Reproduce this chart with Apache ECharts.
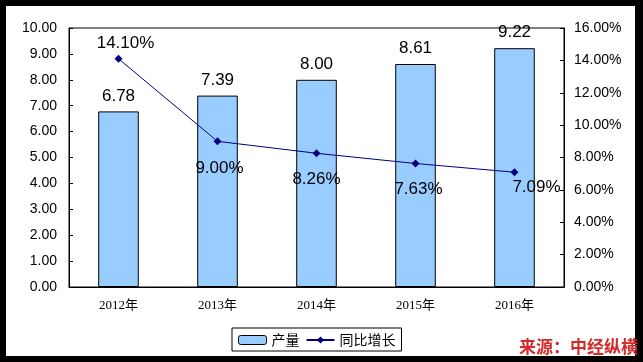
<!DOCTYPE html>
<html><head><meta charset="utf-8">
<script src="https://cdn.jsdelivr.net/npm/echarts@6/dist/echarts.min.js"></script>
<style>html,body{margin:0;padding:0;background:#000;}#c{width:643px;height:362px;}</style>
</head><body><div id="c"></div>
<script>
const categories = ['2012年','2013年','2014年','2015年','2016年'];
const output = [6.78, 7.39, 8.00, 8.61, 9.22];
const growth = [14.10, 9.00, 8.26, 7.63, 7.09];
const leftTicks = {min:0, max:10, interval:1};
const rightTicks = {min:0, max:16, interval:2};

const labelOffsets = [[7,-15],[2,27],[0,26],[3,26],[22,15]];
const numFont = 'Liberation Sans, Arial, sans-serif';
const chart = echarts.init(document.getElementById('c'));
chart.setOption({
  animation:false,
  backgroundColor:'transparent',
  graphic:[
    {type:'rect', z:-10, shape:{x:6,y:6,width:629,height:350}, style:{fill:'#fff'}},
    {type:'text', right:5, top:338, z:100, style:{text:'来源：中经纵横', fill:'#d42a2a', font:'bold 17px "Noto Sans CJK SC", sans-serif'}}
  ],
  grid:{left:69, right:79, top:28, bottom:75, show:true, borderColor:'#000', borderWidth:1, backgroundColor:'transparent'},
  legend:{
    bottom:11, left:232, itemGap:6, padding:[5,6,4,6],
    borderColor:'#000', borderWidth:1,
    textStyle:{fontFamily:'"Noto Sans CJK SC", sans-serif', fontSize:14, color:'#000'},
    data:[{name:'产量', itemStyle:{color:'#99ccff',borderColor:'#000',borderWidth:1}}, {name:'同比增长'}],
    itemWidth:28, itemHeight:9
  },
  xAxis:{
    type:'category', data:categories,
    axisLine:{lineStyle:{color:'#000'}},
    axisTick:{inside:true, length:4, lineStyle:{color:'#000'}},
    axisLabel:{color:'#000', fontSize:13, margin:12, fontFamily:'"Liberation Serif", "Noto Sans CJK SC", serif'}
  },
  yAxis:[
    {type:'value', min:leftTicks.min, max:leftTicks.max, interval:leftTicks.interval,
     splitLine:{show:false},
     axisLine:{show:true, lineStyle:{color:'#000'}},
     axisTick:{show:true, inside:true, length:4, lineStyle:{color:'#000'}},
     axisLabel:{color:'#000', fontSize:14, margin:12, fontFamily:numFont, formatter:v=>v.toFixed(2)}},
    {type:'value', min:rightTicks.min, max:rightTicks.max, interval:rightTicks.interval,
     splitLine:{show:false},
     axisLine:{show:true, lineStyle:{color:'#000'}},
     axisTick:{show:true, inside:true, length:4, lineStyle:{color:'#000'}},
     axisLabel:{color:'#000', fontSize:14, margin:10, fontFamily:numFont, formatter:v=>v.toFixed(2)+'%'}}
  ],
  series:[
    {name:'产量', type:'bar', data:output, barWidth:'41%',
     itemStyle:{color:'#99ccff', borderColor:'#000', borderWidth:1},
     label:{show:true, position:'top', distance:7, color:'#000', fontSize:17, fontFamily:numFont, formatter:p=>p.value.toFixed(2)}},
    {name:'同比增长', type:'line', yAxisIndex:1,
     data:growth.map((v,i)=>({value:v, label:{offset:labelOffsets[i]}})),
     symbol:'diamond', symbolSize:8,
     lineStyle:{color:'#000080', width:1},
     itemStyle:{color:'#000080'},
     label:{show:true, position:'inside', color:'#000', fontSize:17, fontFamily:numFont, formatter:p=>p.value.toFixed(2)+'%'}}
  ]
});
</script></body></html>
